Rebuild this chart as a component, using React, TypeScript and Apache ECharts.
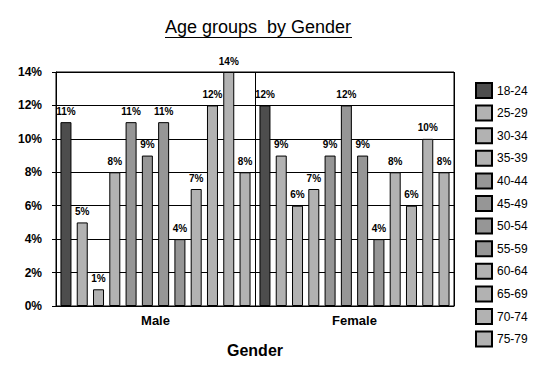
import React, { useEffect, useRef } from "react";
import * as echarts from "echarts";

const genders = ["Male", "Female"];
const ageGroups = ["18-24", "25-29", "30-34", "35-39", "40-44", "45-49", "50-54", "55-59", "60-64", "65-69", "70-74", "75-79"];
const maleValues = [11, 5, 1, 8, 11, 9, 11, 4, 7, 12, 14, 8];
const femaleValues = [12, 9, 6, 7, 9, 12, 9, 4, 8, 6, 10, 8];
const groupColors = ["#4d4d4d", "#b2b2b2", "#b2b2b2", "#b2b2b2", "#969696", "#969696", "#969696", "#969696", "#b2b2b2", "#b2b2b2", "#b2b2b2", "#b2b2b2"];
const yTicks = { min: 0, max: 14, interval: 2 };

export default function App() {
  const ref = useRef<HTMLDivElement>(null);
  useEffect(() => {
    const chart = echarts.init(ref.current!, null, { renderer: "svg" });
    const font = "Arial, 'Liberation Sans', sans-serif";
    chart.setOption({
      animation: false,
      backgroundColor: "#ffffff",
      textStyle: { fontFamily: font },
      title: {
        text: "Age groups  by Gender",
        left: 165,
        top: 18,
        padding: 0,
        textStyle: { fontSize: 18, fontWeight: "normal", color: "#000", fontFamily: font },
      },
      graphic: [
        { type: "line", shape: { x1: 165, y1: 37.5, x2: 352, y2: 37.5 }, style: { stroke: "#000", lineWidth: 1 } },
      ],
      legend: {
        orient: "vertical",
        left: 475,
        top: 82,
        padding: 0,
        itemWidth: 16,
        itemHeight: 15,
        itemGap: 5.6,
        icon: "rect",
        textStyle: { fontSize: 12, color: "#000", fontFamily: font },
        data: ageGroups,
      },
      grid: {
        left: 56,
        right: 98,
        top: 72,
        bottom: 76,
        show: true,
        borderColor: "#000",
        borderWidth: 1,
        backgroundColor: "#fff",
      },
      xAxis: {
        type: "category",
        data: genders,
        name: "Gender",
        nameLocation: "middle",
        nameGap: 36,
        nameTextStyle: { fontSize: 16, fontWeight: "bold", color: "#000", fontFamily: font },
        axisLine: { lineStyle: { color: "#000" } },
        axisTick: { show: false },
        splitLine: { show: true, interval: 0, lineStyle: { color: "#000", width: 1 } },
        axisLabel: { fontSize: 13, fontWeight: "bold", color: "#000", margin: 8, fontFamily: font },
      },
      yAxis: {
        type: "value",
        min: yTicks.min,
        max: yTicks.max,
        interval: yTicks.interval,
        axisLine: { show: true, lineStyle: { color: "#000" } },
        axisTick: { show: true, length: 4, lineStyle: { color: "#000" } },
        splitLine: { lineStyle: { color: "#000", width: 1 } },
        axisLabel: { formatter: "{value}%", fontSize: 12, fontWeight: "bold", color: "#000", margin: 14, fontFamily: font },
      },
      series: ageGroups.map((g, i) => ({
        name: g,
        type: "bar",
        data: [maleValues[i], femaleValues[i]],
        barWidth: 11,
        barGap: "48%",
        itemStyle: { color: groupColors[i], borderColor: "#000", borderWidth: 1 },
        label: {
          show: true,
          position: "top",
          distance: 6,
          formatter: "{c}%",
          fontSize: 10,
          fontWeight: "bold",
          color: "#000",
          fontFamily: font,
        },
      })),
    });
    return () => chart.dispose();
  }, []);
  return <div ref={ref} style={{ position: "fixed", left: 0, top: 0, width: 552, height: 382 }} />;
}
